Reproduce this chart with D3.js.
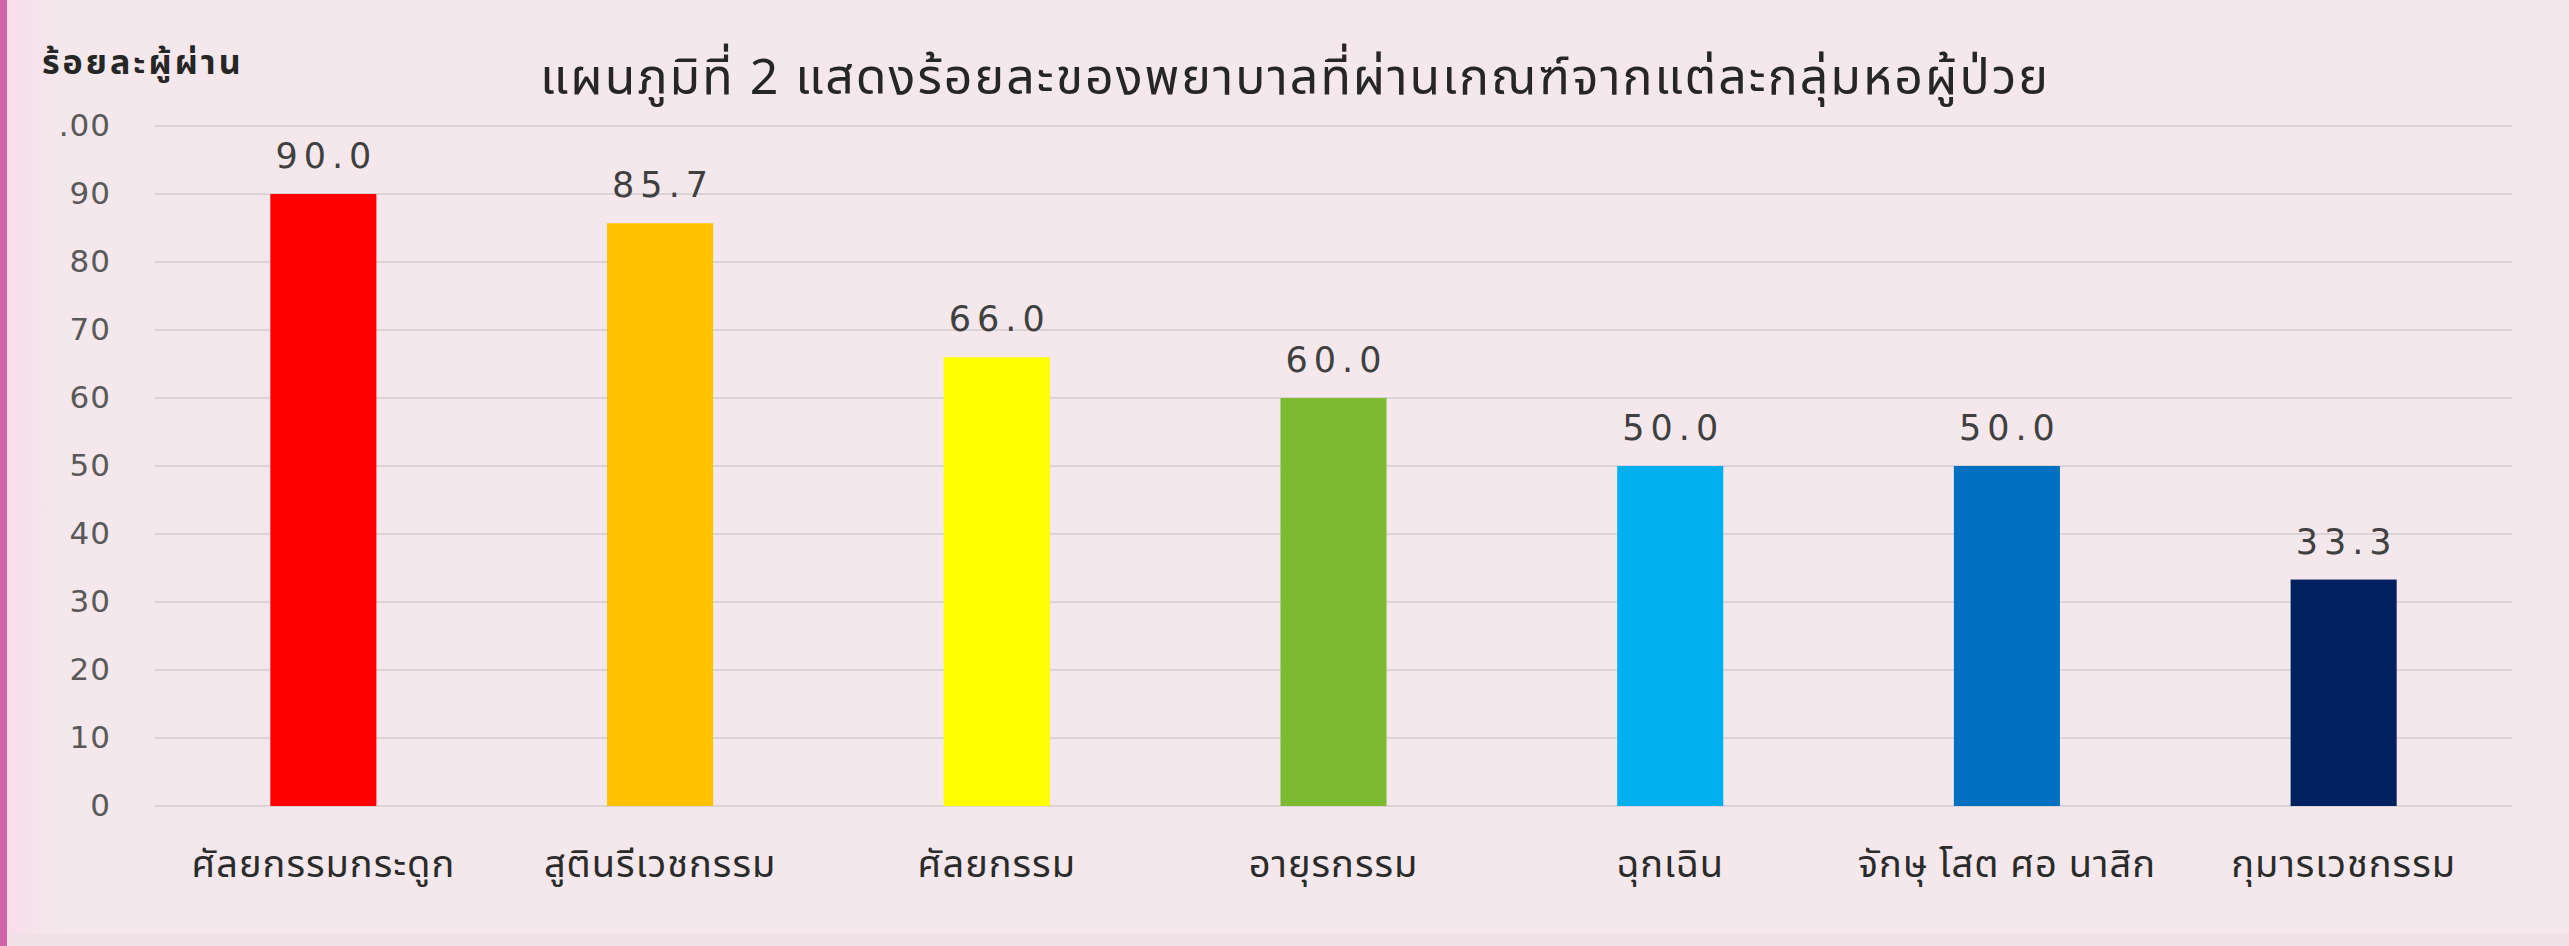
<!DOCTYPE html>
<html>
<head>
<meta charset="utf-8">
<script src="https://cdn.jsdelivr.net/npm/d3@7"></script>
<style>
  body { margin: 0; background: #f4e8ec; }
  svg { display: block; }
</style>
</head>
<body>
<div id="chart-area"></div>
<script>
/* data */
const categories = ["ศัลยกรรมกระดูก", "สูตินรีเวชกรรม", "ศัลยกรรม", "อายุรกรรม", "ฉุกเฉิน", "จักษุ โสต ศอ นาสิก", "กุมารเวชกรรม"]
const values = [90.0, 85.7, 66.0, 60.0, 50.0, 50.0, 33.3]
const barColors = ["#ff0000", "#ffc000", "#ffff00", "#7cbb31", "#00b0f0", "#0070c0", "#002060"]
const tickValues = [0, 10, 20, 30, 40, 50, 60, 70, 80, 90, 100]
const tickLabels = ["0", "10", "20", "30", "40", "50", "60", "70", "80", "90", ".00"]
const titleText = "แผนภูมิที่ 2 แสดงร้อยละของพยาบาลที่ผ่านเกณฑ์จากแต่ละกลุ่มหอผู้ป่วย"
const yTitleText = "ร้อยละผู้ผ่าน"

const W = 2569, H = 946
const MARGIN = { LEFT: 155, RIGHT: 57, TOP: 126, BOTTOM: 140 }
const WIDTH = W - MARGIN.LEFT - MARGIN.RIGHT
const HEIGHT = H - MARGIN.TOP - MARGIN.BOTTOM

const THAI = "'Noto Sans Thai', 'Noto Sans Thai UI', Loma, Garuda, 'Noto Sans', sans-serif"
const NUM = "'DejaVu Sans', Verdana, sans-serif"

const svg = d3.select("#chart-area").append("svg")
  .attr("width", W)
  .attr("height", H)

// slide background with the pink edge on the left
const defs = svg.append("defs")
const grad = defs.append("linearGradient").attr("id", "edge")
grad.append("stop").attr("offset", 0).attr("stop-color", "#f8dcea")
grad.append("stop").attr("offset", 1).attr("stop-color", "#f4e8ec")

svg.append("rect").attr("width", W).attr("height", H).attr("fill", "#f4e8ec")
svg.append("rect").attr("x", 0).attr("width", 60).attr("height", H).attr("fill", "url(#edge)")
svg.append("rect").attr("x", 0).attr("width", 7).attr("height", H).attr("fill", "#cf64a6")
svg.append("rect").attr("x", 7).attr("y", H - 12).attr("width", W).attr("height", 12).attr("fill", "#efe1e5")

const g = svg.append("g")
  .attr("transform", `translate(${MARGIN.LEFT}, ${MARGIN.TOP})`)

// scales
const x = d3.scaleBand()
  .domain(categories)
  .range([0, WIDTH])
  .paddingInner(0.685)
  .paddingOuter(0.3425)

const y = d3.scaleLinear()
  .domain([0, 100])
  .range([HEIGHT, 0])

// gridlines
g.append("g")
  .selectAll("line")
  .data(tickValues)
  .enter().append("line")
  .attr("x1", 0)
  .attr("x2", WIDTH)
  .attr("y1", d => y(d))
  .attr("y2", d => y(d))
  .attr("stroke", "#dcd3d6")
  .attr("stroke-width", 2)

// y axis
const yAxisCall = d3.axisLeft(y)
  .tickValues(tickValues)
  .tickSize(0)
  .tickPadding(44)
  .tickFormat((d, i) => tickLabels[i])

const yAxis = g.append("g").call(yAxisCall)
yAxis.select(".domain").remove()
yAxis.selectAll("text")
  .style("font-family", NUM)
  .style("font-size", "31px")
  .style("letter-spacing", "1px")
  .attr("fill", "#595959")

// x axis
const xAxisCall = d3.axisBottom(x).tickSize(0).tickPadding(44)
const xAxis = g.append("g")
  .attr("transform", `translate(0, ${HEIGHT})`)
  .call(xAxisCall)
xAxis.select(".domain").remove()
xAxis.selectAll("text")
  .style("font-family", THAI)
  .style("font-size", "38px")
  .style("letter-spacing", "1px")
  .attr("fill", "#2b2b2b")

// bars
g.selectAll("rect.bar")
  .data(values)
  .enter().append("rect")
  .attr("class", "bar")
  .attr("x", (d, i) => x(categories[i]))
  .attr("y", d => y(d))
  .attr("width", x.bandwidth())
  .attr("height", d => HEIGHT - y(d))
  .attr("fill", (d, i) => barColors[i])

// value labels
g.selectAll("text.value")
  .data(values)
  .enter().append("text")
  .attr("class", "value")
  .attr("x", (d, i) => x(categories[i]) + x.bandwidth() / 2 + 3)
  .attr("y", d => y(d) - 26)
  .attr("text-anchor", "middle")
  .style("font-family", NUM)
  .style("font-size", "35px")
  .style("letter-spacing", "6px")
  .attr("fill", "#404040")
  .text(d => d.toFixed(1))

// titles
svg.append("text")
  .attr("x", 1295)
  .attr("y", 94)
  .attr("text-anchor", "middle")
  .style("font-family", THAI)
  .style("font-size", "50px")
  .style("letter-spacing", "2px")
  .attr("fill", "#262626")
  .text(titleText)

svg.append("text")
  .attr("x", 42)
  .attr("y", 74)
  .style("font-family", THAI)
  .style("font-size", "34px")
  .style("font-weight", "bold")
  .style("letter-spacing", "3px")
  .attr("fill", "#262626")
  .text(yTitleText)
</script>
</body>
</html>
